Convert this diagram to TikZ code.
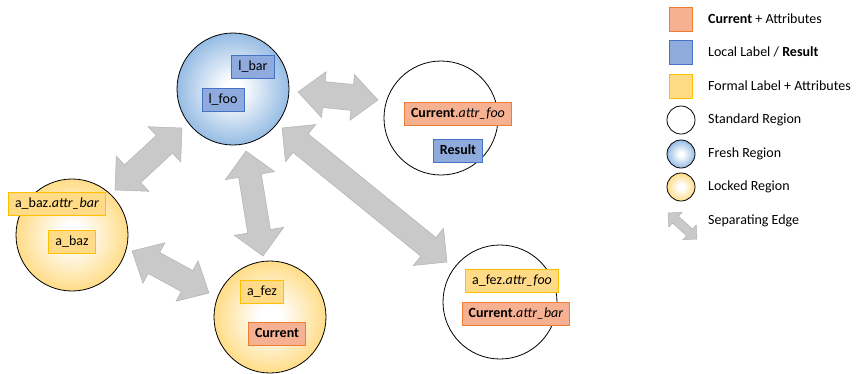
\documentclass[tikz,border=0pt]{standalone}
\usepackage{fontspec}
\setmainfont{Carlito}
\usetikzlibrary{calc}
\definecolor{curfill}{RGB}{246,176,146}
\definecolor{curdraw}{RGB}{237,125,49}
\definecolor{locfill}{RGB}{143,170,220}
\definecolor{locdraw}{RGB}{68,114,196}
\definecolor{forfill}{RGB}{255,219,135}
\definecolor{fordraw}{RGB}{255,192,0}
\definecolor{freshc}{RGB}{150,188,228}
\definecolor{lockc}{RGB}{255,220,135}
\definecolor{sepfill}{RGB}{201,201,201}
\definecolor{sepdraw}{RGB}{178,178,178}
\pgfdeclareradialshading{freshshade}{\pgfpoint{0bp}{0bp}}{color(0bp)=(white); color(4bp)=(white); color(25bp)=(freshc); color(50bp)=(freshc)}
\pgfdeclareradialshading{lockshade}{\pgfpoint{0bp}{0bp}}{color(0bp)=(white); color(5bp)=(white); color(25bp)=(lockc); color(50bp)=(lockc)}
\tikzset{
  every node/.style={font=\fontsize{14}{16}\selectfont},
  lab/.style={draw, line width=0.9pt, inner xsep=6.5pt, inner ysep=0pt, minimum height=23.5pt, text height=10pt, text depth=3pt},
  curlab/.style={lab, fill=curfill, draw=curdraw},
  loclab/.style={lab, fill=locfill, draw=locdraw},
  forlab/.style={lab, fill=forfill, draw=fordraw},
  region/.style={circle, draw=black, line width=0.8pt, inner sep=0pt},
  stdreg/.style={region, fill=white},
  freshreg/.style={region, shading=freshshade},
  lockreg/.style={region, shading=lockshade},
  sepstyle/.style={fill=sepfill, draw=sepdraw, line width=0.5pt, line join=miter},
  legtext/.style={anchor=west, inner sep=0pt}
}
\newcommand\sepedge[5]{%
  \coordinate (sepCa) at ($(#1)!#5!(#2)$);
  \coordinate (sepCb) at ($(#2)!#5!(#1)$);
  \draw[sepstyle] (#1) -- ($(sepCa)!#4!90:(#2)$) -- ($(sepCa)!#3!90:(#2)$)
    -- ($(sepCb)!#3!-90:(#1)$) -- ($(sepCb)!#4!-90:(#1)$) -- (#2)
    -- ($(sepCb)!#4!90:(#1)$) -- ($(sepCb)!#3!90:(#1)$)
    -- ($(sepCa)!#3!-90:(#2)$) -- ($(sepCa)!#4!-90:(#2)$) -- cycle;
}
\begin{document}
\begin{tikzpicture}[x=1pt, y=-1pt]
\useasboundingbox (0,0) rectangle (856,373);

% separating edges
\coordinate (e1a) at (115,190); \coordinate (e1b) at (182,128);
\coordinate (e2a) at (246,151); \coordinate (e2b) at (263,256);
\coordinate (e3a) at (132,251); \coordinate (e3b) at (209,293);
\coordinate (e4a) at (282,128); \coordinate (e4b) at (447,262);
\coordinate (e5a) at (298,92);  \coordinate (e5b) at (378,100);
\sepedge{e1a}{e1b}{12pt}{24pt}{24pt}
\sepedge{e2a}{e2b}{11.5pt}{25pt}{25pt}
\sepedge{e3a}{e3b}{12pt}{23pt}{25pt}
\sepedge{e4a}{e4b}{12pt}{24pt}{24pt}
\sepedge{e5a}{e5b}{13pt}{23pt}{26pt}

% regions
\node[freshreg, minimum size=112pt] (fresh) at (233,89) {};
\node[stdreg, minimum size=114pt] (std1) at (441,118) {};
\node[lockreg, minimum size=112pt] (baz) at (72,235) {};
\node[lockreg, minimum size=112pt] (fez) at (270,317) {};
\node[stdreg, minimum size=114pt] (std2) at (500,302) {};

% labels
\node[loclab] (lbar) at (253,67) {l\_bar};
\node[loclab] (lfoo) at (223,100) {l\_foo};
\node[curlab] (cfoo) at (458,114) {\textbf{Current}.\textit{attr\_foo}};
\node[loclab] (res) at (458,151) {\textbf{Result}};
\node[forlab] (bazattr) at (57,204) {a\_baz.\textit{attr\_bar}};
\node[forlab] (abaz) at (72,242) {a\_baz};
\node[forlab] (afez) at (262,292) {a\_fez};
\node[curlab] (cur) at (277,334) {\textbf{Current}};
\node[forlab] (fezattr) at (512,281) {a\_fez.\textit{attr\_foo}};
\node[curlab] (cbar) at (516,314) {\textbf{Current}.\textit{attr\_bar}};

% legend
\node[draw=curdraw, fill=curfill, line width=0.9pt, minimum width=23pt, minimum height=24pt, inner sep=0pt] (lg1) at (681,19) {};
\node[draw=locdraw, fill=locfill, line width=0.9pt, minimum width=23pt, minimum height=24pt, inner sep=0pt] (lg2) at (681,52) {};
\node[draw=fordraw, fill=forfill, line width=0.9pt, minimum width=23pt, minimum height=24pt, inner sep=0pt] (lg3) at (681,86) {};
\node[stdreg, minimum size=28pt] (lg4) at (681,120) {};
\node[freshreg, minimum size=28pt] (lg5) at (681,154) {};
\node[lockreg, minimum size=28pt] (lg6) at (681,187) {};
\coordinate (lg7a) at (668,213); \coordinate (lg7b) at (697,239);
\sepedge{lg7a}{lg7b}{4.5pt}{10pt}{10pt}

\node[legtext] (t1) at (708,19) {\textbf{Current} + Attributes};
\node[legtext] (t2) at (708,52) {Local Label / \textbf{Result}};
\node[legtext] (t3) at (708,86) {Formal Label + Attributes};
\node[legtext] (t4) at (708,120) {Standard Region};
\node[legtext] (t5) at (708,154) {Fresh Region};
\node[legtext] (t6) at (708,187) {Locked Region};
\node[legtext] (t7) at (708,221) {Separating Edge};
\end{tikzpicture}
\end{document}
